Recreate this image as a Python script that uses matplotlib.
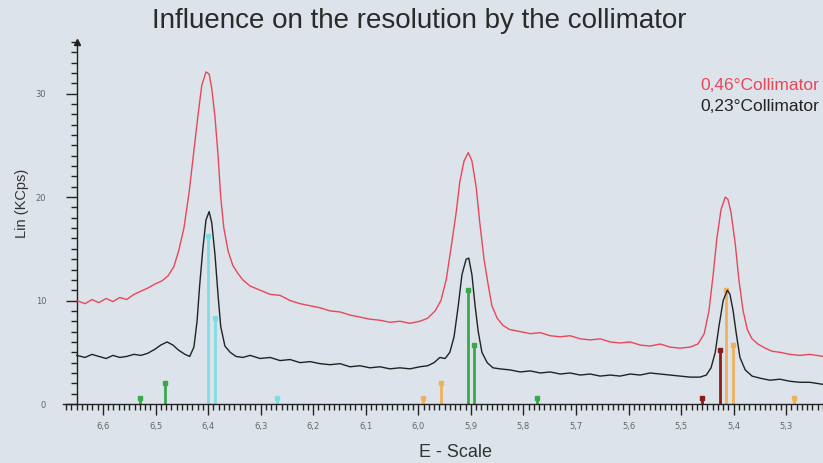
import numpy as np
import matplotlib
matplotlib.use("Agg")
import matplotlib.pyplot as plt
from matplotlib.ticker import FixedLocator, MultipleLocator, FuncFormatter

# --- данные (энергия в кэВ, интенсивность в KCps) ---
red_energy = [
    6.650, 6.634, 6.621, 6.608, 6.594, 6.581, 6.568, 6.555, 6.541, 6.528,
    6.515, 6.501, 6.488, 6.476, 6.465, 6.456, 6.446, 6.436, 6.427, 6.419,
    6.412, 6.404, 6.398, 6.393, 6.387, 6.381, 6.376, 6.370, 6.362, 6.353,
    6.343, 6.334, 6.320, 6.301, 6.282, 6.263, 6.244, 6.225, 6.206, 6.187,
    6.168, 6.149, 6.130, 6.111, 6.092, 6.073, 6.054, 6.035, 6.016, 5.997,
    5.982, 5.968, 5.957, 5.947, 5.938, 5.928, 5.921, 5.913, 5.905, 5.898,
    5.890, 5.883, 5.875, 5.867, 5.860, 5.850, 5.839, 5.826, 5.806, 5.787,
    5.768, 5.749, 5.730, 5.711, 5.692, 5.673, 5.654, 5.635, 5.616, 5.597,
    5.578, 5.559, 5.540, 5.521, 5.502, 5.483, 5.468, 5.456, 5.447, 5.439,
    5.432, 5.424, 5.416, 5.411, 5.405, 5.397, 5.390, 5.382, 5.374, 5.365,
    5.354, 5.340, 5.327, 5.312, 5.293, 5.274, 5.255, 5.230,
]
red_counts = [
    10.0, 9.7, 10.1, 9.8, 10.2, 9.9, 10.3, 10.1, 10.6, 10.9,
    11.2, 11.6, 11.9, 12.4, 13.3, 14.8, 17.0, 20.5, 24.5, 28.0,
    30.8, 32.1, 31.9, 30.5, 27.8, 24.0, 20.0, 17.0, 14.8, 13.4,
    12.6, 12.0, 11.4, 11.0, 10.6, 10.5, 10.0, 9.7, 9.5, 9.3,
    9.0, 8.9, 8.6, 8.4, 8.2, 8.1, 7.9, 8.0, 7.8, 8.0,
    8.3, 9.0, 10.0, 12.0, 15.0, 18.5, 21.5, 23.5, 24.3, 23.5,
    21.0, 17.5, 14.0, 11.5, 9.5, 8.3, 7.6, 7.2, 7.0, 6.8,
    6.9, 6.6, 6.5, 6.6, 6.3, 6.2, 6.3, 6.0, 5.9, 6.0,
    5.7, 5.6, 5.8, 5.5, 5.4, 5.5, 5.8, 6.8, 9.0, 12.5,
    16.0, 18.8, 20.0, 19.8, 18.5, 15.5, 12.0, 9.0, 7.2, 6.3,
    5.8, 5.4, 5.1, 5.0, 4.8, 4.7, 4.8, 4.6,
]

black_energy = [
    6.650, 6.634, 6.621, 6.608, 6.594, 6.581, 6.568, 6.555, 6.541, 6.528,
    6.515, 6.501, 6.490, 6.478, 6.467, 6.456, 6.444, 6.435, 6.427, 6.421,
    6.416, 6.410, 6.404, 6.398, 6.393, 6.387, 6.381, 6.376, 6.368, 6.358,
    6.347, 6.334, 6.320, 6.301, 6.282, 6.263, 6.244, 6.225, 6.206, 6.187,
    6.168, 6.149, 6.130, 6.111, 6.092, 6.073, 6.054, 6.035, 6.016, 5.997,
    5.982, 5.970, 5.959, 5.949, 5.940, 5.932, 5.924, 5.917, 5.909, 5.904,
    5.898, 5.892, 5.886, 5.879, 5.869, 5.858, 5.845, 5.826, 5.806, 5.787,
    5.768, 5.749, 5.730, 5.711, 5.692, 5.673, 5.654, 5.635, 5.616, 5.597,
    5.578, 5.559, 5.540, 5.521, 5.502, 5.483, 5.464, 5.452, 5.443, 5.435,
    5.428, 5.420, 5.412, 5.407, 5.401, 5.395, 5.388, 5.378, 5.365, 5.350,
    5.331, 5.312, 5.293, 5.274, 5.255, 5.230,
]
black_counts = [
    4.7, 4.5, 4.8, 4.6, 4.4, 4.7, 4.5, 4.6, 4.8, 4.7,
    4.9, 5.3, 5.7, 6.0, 5.7, 5.2, 4.8, 4.6, 5.5, 8.0,
    11.5, 15.0, 17.8, 18.6, 17.5, 14.5, 10.5, 7.5, 5.6, 5.0,
    4.6, 4.5, 4.7, 4.4, 4.5, 4.2, 4.3, 4.0, 4.1, 3.9,
    3.8, 3.9, 3.6, 3.7, 3.5, 3.6, 3.4, 3.5, 3.4, 3.6,
    3.7, 4.0, 4.5, 4.4, 5.0, 6.5, 9.5, 12.5, 14.0, 14.1,
    12.5, 9.5, 7.0, 5.0, 4.0, 3.5, 3.4, 3.3, 3.1, 3.2,
    3.0, 3.1, 2.9, 3.0, 2.8, 2.9, 2.7, 2.8, 2.7, 2.9,
    2.8, 3.0, 2.9, 2.8, 2.7, 2.6, 2.6, 2.8, 3.5, 5.0,
    7.5, 10.0, 11.0, 10.6, 9.0, 6.8, 4.5, 3.3, 2.7, 2.5,
    2.3, 2.4, 2.2, 2.1, 2.1, 1.9,
]

# линии элементов (KLM-маркеры)
fe_lines = [6.400, 6.387, 6.269]
fe_heights = [16.2, 8.3, 0.6]
mn_lines = [6.530, 6.482, 5.905, 5.894, 5.774]
mn_heights = [0.6, 2.0, 11.0, 5.7, 0.6]
cr_lines = [5.991, 5.957, 5.414, 5.401, 5.285]
cr_heights = [0.6, 2.0, 11.0, 5.7, 0.6]
dr_lines = [5.460, 5.426]
dr_heights = [0.6, 5.2]

x_ticks = [6.6, 6.5, 6.4, 6.3, 6.2, 6.1, 6.0, 5.9, 5.8, 5.7, 5.6, 5.5, 5.4, 5.3]
y_ticks = [0, 10, 20, 30]

BG = "#dde3ea"
Y_AXIS_AT = 6.650

fig = plt.figure(figsize=(8.23, 4.63), dpi=100, facecolor=BG)
ax = fig.add_axes([0.0766, 0.1274, 0.9234, 0.782])
ax.set_facecolor(BG)

# маркеры элементов
for lines, heights, color in [(fe_lines, fe_heights, "#7fdde6"),
                              (mn_lines, mn_heights, "#3aa84a"),
                              (cr_lines, cr_heights, "#f0b15e"),
                              (dr_lines, dr_heights, "#8a1c1c")]:
    ax.vlines(lines, 0, heights, colors=color, linewidth=2.0, zorder=1)
    ax.plot(lines, heights, linestyle="none", marker="s", markersize=3,
            color=color, zorder=2)

# спектры
ax.plot(red_energy, red_counts, color="#e8475a", linewidth=1.0, zorder=3)
ax.plot(black_energy, black_counts, color="#222222", linewidth=1.0, zorder=4)

ax.set_xlim(6.676, 5.230)
ax.set_ylim(0, 35)

for side in ["top", "right"]:
    ax.spines[side].set_visible(False)
for side in ["left", "bottom"]:
    ax.spines[side].set_color("#222222")
    ax.spines[side].set_linewidth(1.0)
ax.spines["left"].set_position(("data", Y_AXIS_AT))
# стрелка на конце оси Y
ax.plot([Y_AXIS_AT], [35], marker="^", markersize=4, color="#222222",
        clip_on=False, zorder=5)

ax.xaxis.set_major_locator(FixedLocator(x_ticks))
ax.xaxis.set_minor_locator(MultipleLocator(0.01))
ax.yaxis.set_major_locator(FixedLocator(y_ticks))
ax.yaxis.set_minor_locator(MultipleLocator(1))
ax.xaxis.set_major_formatter(FuncFormatter(lambda v, p: f"{v:.1f}".replace(".", ",")))
ax.tick_params(axis="both", which="major", length=8, width=1.0, color="#222222",
               labelsize=6, labelcolor="#666666")
ax.tick_params(axis="x", which="major", pad=5)
ax.tick_params(axis="y", which="major", pad=14)
ax.tick_params(axis="both", which="minor", length=4, width=1.0, color="#222222")

fig.text(0.509, 0.955, "Influence on the resolution by the collimator",
         ha="center", va="center", fontsize=20, family="Liberation Sans", color="#2a2a2a")
fig.text(0.027, 0.56, "Lin (KCps)", rotation=90, ha="center", va="center",
         fontsize=10.5, family="Liberation Sans", color="#333333")
fig.text(0.553, 0.022, "E - Scale", ha="center", va="center",
         fontsize=13, family="Liberation Sans", color="#333333")

fig.text(0.851, 0.816, "0,46°Collimator", ha="left", va="center",
         fontsize=12.5, family="Liberation Sans", color="#e8475a")
fig.text(0.851, 0.771, "0,23°Collimator", ha="left", va="center",
         fontsize=12.5, family="Liberation Sans", color="#222222")

fig.savefig("out.png", dpi=100, facecolor=BG)
